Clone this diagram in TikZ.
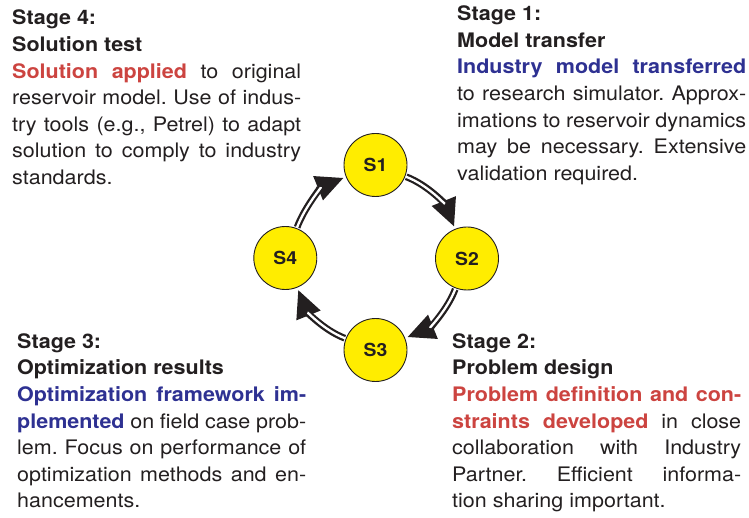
\documentclass[tikz,border=0pt]{standalone}
\usepackage{fontspec}
\setmainfont[FakeStretch=1.075]{TeX Gyre Heros}
\usetikzlibrary{arrows.meta}
\definecolor{txt}{RGB}{35,31,32}
\definecolor{hred}{RGB}{204,68,64}
\definecolor{hblue}{RGB}{46,49,146}
\definecolor{syellow}{RGB}{255,237,0}
\setlength{\parindent}{0pt}
\frenchspacing
\begin{document}
\begin{tikzpicture}[x=1pt,y=1pt,
  stagenode/.style={circle, draw=txt, line width=0.9pt, fill=syellow, minimum size=63pt, inner sep=0pt, font=\fontsize{18}{20}\selectfont\bfseries, text=txt},
  flowout/.style={draw=txt, line width=6.8pt, -{Triangle[length=28pt,width=24pt]}, shorten >=2pt, shorten <=1pt, looseness=0.9},
  flowin/.style={draw=white, line width=2.3pt, shorten >=27pt, shorten <=0.5pt, looseness=0.9},
  desc/.style={anchor=base west, inner sep=0pt, text width=289pt, align=justify, text=txt, font=\fontsize{20}{26.6}\selectfont},
]
\useasboundingbox (0,0) rectangle (749,517);
\node[stagenode] (s1) at (375.5,352) {S1};
\node[stagenode] (s2) at (467,258.5) {S2};
\node[stagenode] (s3) at (375.5,167) {S3};
\node[stagenode] (s4) at (285.3,259) {S4};

\draw[flowout] (s1) to[out=-21,in=112] (s2);
\draw[flowin]  (s1) to[out=-21,in=112] (s2);
\draw[flowout] (s2) to[out=-111,in=22] (s3);
\draw[flowin]  (s2) to[out=-111,in=22] (s3);
\draw[flowout] (s3) to[out=159,in=-68] (s4);
\draw[flowin]  (s3) to[out=159,in=-68] (s4);
\draw[flowout] (s4) to[out=69,in=-158] (s1);
\draw[flowin]  (s4) to[out=69,in=-158] (s1);

\node[desc] (t4) at (12,492) {\textbf{Stage 4:}\par\textbf{Solution test}\par
{\color{hred}\bfseries Solution applied} to original\linebreak
reservoir model. Use of indus-\linebreak
try tools (e.g., Petrel) to adapt\linebreak
solution to comply to industry\linebreak
standards.};

\node[desc] (t1) at (457,496.3) {\textbf{Stage 1:}\par\textbf{Model transfer}\par
{\color{hblue}\bfseries Industry model transferred}\linebreak
to research simulator. Approx-\linebreak
imations to reservoir dynamics\linebreak
may be necessary. Extensive\linebreak
validation required.};

\node[desc] (t3) at (17,168.7) {\textbf{Stage 3:}\par\textbf{Optimization results}\par
{\color{hblue}\bfseries Optimization framework im-\linebreak
plemented} on field case prob-\linebreak
lem. Focus on performance of\linebreak
optimization methods and en-\linebreak
hancements.};

\node[desc] (t2) at (452,168.7) {\textbf{Stage 2:}\par\textbf{Problem design}\par
{\color{hred}\bfseries Problem definition and con-\linebreak
straints developed} in close\linebreak
collaboration with Industry\linebreak
Partner. Efficient informa-\linebreak
tion sharing important.};
\end{tikzpicture}
\end{document}
